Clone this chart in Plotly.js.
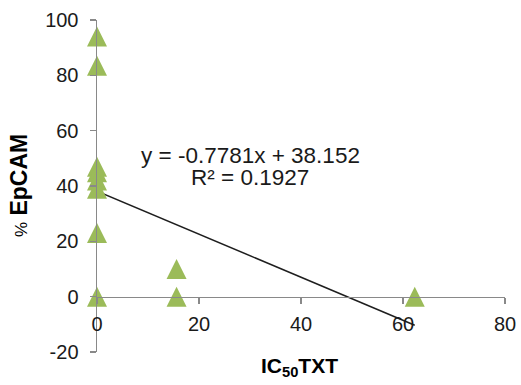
<!DOCTYPE html>
<html>
<head>
<meta charset="utf-8">
<script src="https://cdn.plot.ly/plotly-3.0.1.min.js"></script>
<style>html,body{margin:0;padding:0;background:#fff;}#chart{width:521px;height:385px;}</style>
</head>
<body>
<div id="chart"></div>
<script>
// Data
const ic50 = [0, 0, 0, 0, 0, 0, 0, 0, 15.6, 15.6, 62.3];
const epcam = [94, 83.5, 47, 45, 42, 39, 23, 0, 10, 0, 0];
// Trendline as printed on the chart
const slope = -0.7781;
const intercept = 38.152;
const r2 = 0.1927;
const xTicks = [0, 20, 40, 60, 80];
const yTicks = [-20, 0, 20, 40, 60, 80, 100];

const xMin = Math.min(...ic50), xMax = Math.max(...ic50);
const trendX = [xMin, xMax];
const trendY = trendX.map(v => slope * v + intercept);

const FONT = '"Liberation Sans", Arial, sans-serif';
const AXIS = '#898989';

const traces = [
  {
    x: trendX, y: trendY, mode: 'lines', type: 'scatter',
    line: {color: '#1e1e1e', width: 1.5}, cliponaxis: false, hoverinfo: 'skip'
  },
  {
    x: ic50, y: epcam, mode: 'markers', type: 'scatter',
    marker: {symbol: 'arrow-down', angle: 180, size: 20, standoff: 10, color: '#9BBB59', line: {width: 0}},
    cliponaxis: false
  }
];

const layout = {
  width: 521, height: 385,
  margin: {l: 97, r: 16, t: 20, b: 33},
  paper_bgcolor: '#fff', plot_bgcolor: '#fff',
  showlegend: false,
  font: {family: FONT, color: '#1a1a1a'},
  xaxis: {
    range: [0, 80], tickvals: xTicks, ticktext: xTicks.map(String),
    anchor: 'free', position: 20 / 120,
    showline: true, linecolor: AXIS, linewidth: 1.5,
    ticks: 'outside', ticklen: 6, tickcolor: AXIS, tickwidth: 1.5,
    showgrid: false, zeroline: false,
    tickfont: {size: 20, family: FONT, color: '#1a1a1a'},
    ticklabelstandoff: 3
  },
  yaxis: {
    range: [-20, 100], tickvals: yTicks, ticktext: yTicks.map(String),
    showline: true, linecolor: AXIS, linewidth: 1.5,
    ticks: 'outside', ticklen: 6, tickcolor: AXIS, tickwidth: 1.5,
    showgrid: false, zeroline: false,
    tickfont: {size: 20, family: FONT, color: '#1a1a1a'},
    ticklabelstandoff: 7
  },
  annotations: [
    {
      text: 'y = ' + slope + 'x + ' + intercept,
      xref: 'x', yref: 'y', x: 30, y: 51.2, showarrow: false,
      xanchor: 'center', yanchor: 'middle',
      font: {size: 22.5, family: FONT, color: '#1a1a1a'}
    },
    {
      text: 'R² = ' + r2,
      xref: 'x', yref: 'y', x: 30, y: 43.2, showarrow: false,
      xanchor: 'center', yanchor: 'middle',
      font: {size: 22.5, family: FONT, color: '#1a1a1a'}
    },
    {
      text: '<span style="font-size:17px">%</span> <b>EpCAM</b>',
      xref: 'paper', yref: 'paper', x: -0.191, y: 0.5, textangle: -90,
      showarrow: false, xanchor: 'center', yanchor: 'middle',
      font: {size: 23, family: FONT, color: '#000'}
    },
    {
      text: '<b>IC<sub>50</sub>TXT</b>',
      xref: 'paper', yref: 'paper', x: 0.4975, y: -0.045,
      showarrow: false, xanchor: 'center', yanchor: 'middle',
      font: {size: 21, family: FONT, color: '#000'}
    }
  ]
};

Plotly.newPlot('chart', traces, layout, {staticPlot: true, displayModeBar: false});
</script>
</body>
</html>
